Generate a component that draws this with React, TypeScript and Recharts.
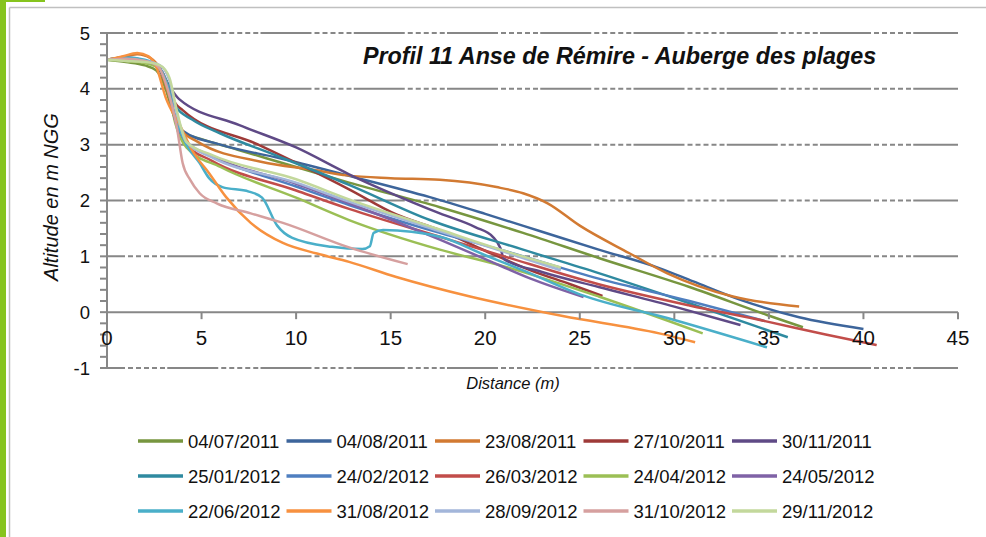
import React from "react";
import { LineChart, Line, XAxis, YAxis, ReferenceLine } from "recharts";

// ---------- data ----------
const seriesNames = [
  "04/07/2011", "04/08/2011", "23/08/2011", "27/10/2011", "30/11/2011",
  "25/01/2012", "24/02/2012", "26/03/2012", "24/04/2012", "24/05/2012",
  "22/06/2012", "31/08/2012", "28/09/2012", "31/10/2012", "29/11/2012",
];

const p_04_07_2011 = [[0,4.52],[1,4.48],[2,4.42],[2.6,4.33],[3.1,4.0],[3.5,3.55],[4,3.22],[5,3.1],[7,2.9],[10,2.6],[12.8,2.32],[17.6,1.88],[22,1.42],[26,0.97],[30.8,0.45],[34.9,-0.05],[36.8,-0.27]];
const p_04_08_2011 = [[0,4.52],[1,4.55],[2,4.5],[2.7,4.38],[3.2,4.0],[3.6,3.5],[4,3.25],[6,3.0],[9.1,2.76],[12.7,2.45],[17.07,2.06],[20,1.76],[23,1.44],[26,1.12],[29.2,0.79],[31,0.55],[33.5,0.22],[36.6,-0.09],[40,-0.3]];
const p_23_08_2011 = [[0,4.52],[0.8,4.57],[1.6,4.62],[2.3,4.55],[2.8,4.35],[3.3,3.85],[3.8,3.3],[4.8,3.05],[8.2,2.69],[10.9,2.55],[12.7,2.45],[15,2.4],[17.6,2.37],[20.6,2.24],[22,2.13],[23.3,1.95],[25,1.55],[27.6,1.06],[29.6,0.7],[33.1,0.28],[36.6,0.1]];
const p_27_10_2011 = [[0,4.52],[1,4.55],[2,4.5],[2.7,4.38],[3.2,4.1],[3.6,3.75],[4,3.62],[8,3.0],[12.8,2.2],[15.3,1.75],[17.6,1.47],[20,1.1],[22.4,0.75],[24.5,0.5],[26.2,0.29]];
const p_30_11_2011 = [[0,4.52],[1,4.56],[2,4.5],[2.7,4.38],[3.2,4.1],[3.8,3.82],[7,3.35],[10,2.95],[12.8,2.47],[17.6,1.77],[19.5,1.52],[20.4,1.35],[20.8,1.15],[21,0.95],[23,0.72],[26,0.45],[30,0.1],[33.5,-0.23]];
const p_25_01_2012 = [[0,4.52],[1,4.55],[2,4.5],[2.7,4.4],[3.2,4.1],[3.6,3.7],[4.5,3.45],[6,3.2],[9,2.8],[12.8,2.28],[17.07,1.65],[22,1.12],[26,0.7],[30.8,0.16],[36,-0.45]];
const p_24_02_2012 = [[0,4.52],[1,4.55],[2,4.5],[2.7,4.4],[3.2,4.05],[3.6,3.5],[4.2,3.05],[5.5,2.8],[10,2.25],[12.8,1.92],[17.6,1.42],[21,1.1],[26,0.6],[30.8,0.2],[34.8,-0.16]];
const p_26_03_2012 = [[0,4.52],[1,4.55],[2,4.5],[2.7,4.4],[3.2,4.05],[3.6,3.45],[4.2,3.0],[5.5,2.72],[10,2.18],[12.8,1.85],[17.6,1.35],[21,1.0],[26,0.5],[30.8,0.12],[34.8,-0.16],[38,-0.4],[40.7,-0.59]];
const p_24_04_2012 = [[0,4.52],[1,4.5],[2,4.46],[2.7,4.38],[3.2,4.05],[3.6,3.4],[4.2,2.95],[6,2.6],[10,2.05],[12.8,1.65],[17.6,1.12],[21,0.82],[26,0.28],[31.5,-0.38]];
const p_24_05_2012 = [[0,4.52],[1,4.55],[2,4.5],[2.7,4.4],[3.2,4.05],[3.6,3.45],[4.2,3.05],[5.5,2.8],[10,2.3],[12.8,1.95],[17.6,1.3],[20,0.95],[22.4,0.6],[25.2,0.27]];
const p_22_06_2012 = [[0,4.52],[1,4.56],[2,4.52],[2.7,4.4],[3.2,4.05],[3.6,3.5],[4.2,3.0],[4.9,2.67],[5.4,2.4],[6.1,2.24],[7.5,2.16],[8.2,2.05],[9,1.55],[9.8,1.33],[11.9,1.17],[13.5,1.13],[13.9,1.18],[14.1,1.42],[14.6,1.47],[17.6,1.35],[20,1.02],[22,0.75],[25,0.32],[30,-0.14],[34.9,-0.63]];
const p_31_08_2012 = [[0,4.52],[0.8,4.58],[1.6,4.64],[2.2,4.58],[2.6,4.4],[3.1,3.85],[3.9,3.32],[4.5,2.9],[5.4,2.49],[6.3,2.06],[7.6,1.6],[9.3,1.24],[11.1,1.05],[12.8,0.9],[15.3,0.63],[19.2,0.28],[24.1,-0.07],[29.2,-0.38],[31.1,-0.54]];
const p_28_09_2012 = [[0,4.52],[1,4.53],[2,4.5],[2.8,4.42],[3.3,4.15],[3.7,3.55],[4.2,3.05],[5.5,2.78],[10,2.32],[12.8,1.98],[17.6,1.45],[21,1.08],[24,0.75]];
const p_31_10_2012 = [[0,4.52],[1,4.54],[2,4.5],[2.7,4.4],[3.2,4.0],[3.7,3.3],[4.0,2.67],[4.4,2.37],[4.9,2.13],[5.8,1.95],[7.6,1.77],[9.3,1.6],[12.8,1.16],[15.9,0.86]];
const p_29_11_2012 = [[0,4.52],[1,4.5],[2,4.48],[2.8,4.42],[3.3,4.2],[3.7,3.6],[4.2,3.05],[5.5,2.82],[10,2.38],[12.8,2.02],[17.6,1.48],[21,1.1],[24,0.8]];

const seriesPoints = [
  p_04_07_2011, p_04_08_2011, p_23_08_2011, p_27_10_2011, p_30_11_2011,
  p_25_01_2012, p_24_02_2012, p_26_03_2012, p_24_04_2012, p_24_05_2012,
  p_22_06_2012, p_31_08_2012, p_28_09_2012, p_31_10_2012, p_29_11_2012,
];

const xTicks = [0, 5, 10, 15, 20, 25, 30, 35, 40, 45];
const yTicks = [-1, -0.8, -0.6, -0.4, -0.2, 0, 0.2, 0.4, 0.6, 0.8, 1, 1.2, 1.4, 1.6, 1.8, 2, 2.2, 2.4, 2.6, 2.8, 3, 3.2, 3.4, 3.6, 3.8, 4, 4.2, 4.4, 4.6, 4.8, 5];
const yGridValues = [-1, 1, 2, 3, 4, 5];

const title = "Profil 11 Anse de Rémire - Auberge des plages";
const xTitle = "Distance (m)";
const yTitle = "Altitude en m NGG";

// ---------- styles ----------
const seriesColors = [
  "#77963f", "#3d659b", "#d27a32", "#9e3a38", "#5f4a86",
  "#2f8aa0", "#4f7fc0", "#c24d4a", "#9bbf55", "#7f62a6",
  "#4aafc9", "#f7913f", "#a3b6da", "#d6a09f", "#c3d89c",
];

const FONT = "'Liberation Sans', Arial, sans-serif";
const GREY = "#878787";
const CHART_W = 986;
const CHART_H = 398;
const MARGIN = { top: 33, right: 28, left: 30, bottom: 0 };
const Y_AXIS_W = 77;
const X_AXIS_H = 30;
const Y_MIN = -1;
const Y_MAX = 5;
const PLOT_TOP = MARGIN.top;
const PLOT_BOTTOM = CHART_H - MARGIN.bottom - X_AXIS_H;
const ZERO_Y = PLOT_TOP + ((Y_MAX - 0) / (Y_MAX - Y_MIN)) * (PLOT_BOTTOM - PLOT_TOP);
const GRID_DASH = "51 3 5 3 5 3 5 3 5 3 5 2.25";

const XTick = (props: any) => {
  const { x, payload } = props;
  return (
    <g>
      <line x1={x} x2={x} y1={ZERO_Y} y2={ZERO_Y + 7} stroke={GREY} strokeWidth={2} />
      <text x={x} y={ZERO_Y + 33} textAnchor="middle" fontSize={20.5} fontFamily={FONT} fill="#111">
        {payload.value}
      </text>
    </g>
  );
};

const yFormat = (v: number) => (Math.abs(v - Math.round(v)) < 1e-6 ? String(Math.round(v)) : "");

export default function App() {
  const lineData = seriesPoints.map((pts) => pts.map(([x, y]) => ({ x, y })));
  return (
    <div style={{ position: "absolute", left: 0, top: 0, width: 986, height: 537, background: "#fff", overflow: "hidden" }}>
      <div style={{ position: "absolute", left: 0, top: 0 }}>
        <LineChart width={CHART_W} height={CHART_H} margin={MARGIN}>
          <XAxis
            dataKey="x"
            type="number"
            domain={[0, 45]}
            ticks={xTicks}
            interval={0}
            axisLine={false}
            tickLine={false}
            height={X_AXIS_H}
            tick={<XTick />}
          />
          <YAxis
            type="number"
            domain={[Y_MIN, Y_MAX]}
            ticks={yTicks}
            interval={0}
            width={Y_AXIS_W}
            axisLine={{ stroke: GREY, strokeWidth: 2 }}
            tickLine={{ stroke: GREY, strokeWidth: 2 }}
            tickSize={7}
            tickMargin={10}
            tickFormatter={yFormat}
            tick={{ fontSize: 18.5, fontFamily: FONT, fill: "#111" }}
          />
          {yGridValues.map((v) => (
            <ReferenceLine key={v} y={v} stroke={GREY} strokeWidth={2} strokeDasharray={GRID_DASH} strokeDashoffset={33} />
          ))}
          <ReferenceLine y={0} stroke={GREY} strokeWidth={2} />
          {lineData.map((d, i) => (
            <Line
              key={seriesNames[i]}
              data={d}
              dataKey="y"
              name={seriesNames[i]}
              type="monotone"
              stroke={seriesColors[i]}
              strokeWidth={2.5}
              dot={false}
              activeDot={false}
              isAnimationActive={false}
            />
          ))}
        </LineChart>
      </div>
      <svg width={986} height={537} style={{ position: "absolute", left: 0, top: 0, pointerEvents: "none" }}>
        <rect x={0} y={0} width={6} height={537} fill="#86c41e" />
        <rect x={0} y={0} width={45} height={2} fill="#86c41e" />
        <line x1={9.5} y1={537} x2={9.5} y2={7.5} stroke="#c0c0c0" strokeWidth={1.5} />
        <line x1={9.5} y1={7.5} x2={986} y2={7.5} stroke="#c0c0c0" strokeWidth={1.5} />
        <text x={363} y={64} fontSize={23.3} fontWeight="bold" fontStyle="italic" fontFamily={FONT} fill="#111">
          {title}
        </text>
        <text x={513} y={389} textAnchor="middle" fontSize={16.5} fontStyle="italic" fontFamily={FONT} fill="#111">
          {xTitle}
        </text>
        <text x={58} y={197} transform="rotate(-90 58 197)" textAnchor="middle" fontSize={20} fontStyle="italic" fontFamily={FONT} fill="#111">
          {yTitle}
        </text>
        {seriesNames.map((n, i) => {
          const col = i % 5;
          const row = Math.floor(i / 5);
          const x0 = 138 + col * 148.5;
          const y0 = 441 + row * 35;
          return (
            <g key={n}>
              <line x1={x0} x2={x0 + 45} y1={y0} y2={y0} stroke={seriesColors[i]} strokeWidth={3.5} />
              <text x={x0 + 50} y={y0 + 6.5} fontSize={18.5} fontFamily={FONT} fill="#111">
                {n}
              </text>
            </g>
          );
        })}
      </svg>
    </div>
  );
}
